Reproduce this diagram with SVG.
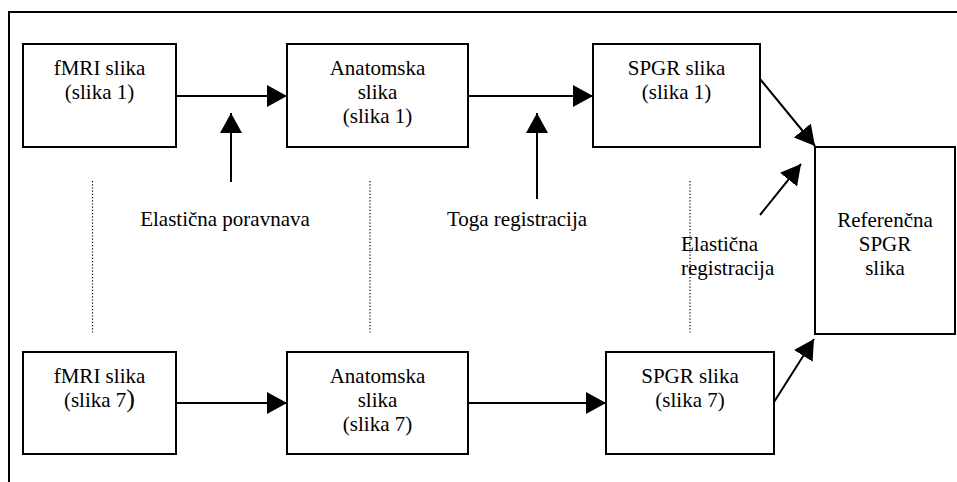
<svg xmlns="http://www.w3.org/2000/svg" width="957" height="482" viewBox="0 0 957 482">
<defs>
<marker id="ah" markerUnits="userSpaceOnUse" markerWidth="20" markerHeight="22" refX="20" refY="11" orient="auto">
<path d="M0,0 L20,11 L0,22 z" fill="#000"/>
</marker>
<style>
.box{fill:#fff;stroke:#000;stroke-width:2}
.arr{stroke:#000;stroke-width:2;fill:none;marker-end:url(#ah)}
.dot{stroke:#000;stroke-width:1.2;stroke-dasharray:1.2 2;fill:none}
</style>
</defs>
<rect width="957" height="482" fill="#fff"/>
<path d="M9,482 L9,12 L957,12" fill="none" stroke="#000" stroke-width="2"/>

<g id="connectors">
<line class="arr" x1="176" y1="96" x2="287" y2="96"/>
<line class="arr" x1="468" y1="96" x2="593" y2="96"/>
<line class="arr" x1="231" y1="182" x2="231" y2="113"/>
<line class="arr" x1="537" y1="199" x2="537" y2="113"/>
<line class="arr" x1="760" y1="79" x2="815" y2="146"/>
<line class="arr" x1="760" y1="215" x2="801" y2="164"/>
<line class="arr" x1="774" y1="402" x2="814" y2="339"/>
<line class="arr" x1="176" y1="403" x2="287" y2="403"/>
<line class="arr" x1="468" y1="403" x2="606" y2="403"/>
<line class="dot" x1="92.5" y1="181" x2="92.5" y2="334"/>
<line class="dot" x1="370" y1="181" x2="370" y2="334"/>
<line class="dot" x1="690" y1="181" x2="690" y2="334"/>
</g>

<g font-family="Liberation Serif" font-size="21" fill="#000">
<g id="fmri1">
<rect class="box" x="23" y="44" width="153" height="103"/>
<text text-anchor="middle" x="99.5" y="75">fMRI slika</text>
<text text-anchor="middle" x="99.5" y="99">(slika 1)</text>
</g>
<g id="anat1">
<rect class="box" x="287" y="44" width="181" height="103"/>
<text text-anchor="middle" x="377.5" y="75">Anatomska</text>
<text text-anchor="middle" x="377.5" y="99">slika</text>
<text text-anchor="middle" x="377.5" y="123">(slika 1)</text>
</g>
<g id="spgr1">
<rect class="box" x="593" y="44" width="167" height="103"/>
<text text-anchor="middle" x="676.5" y="75">SPGR slika</text>
<text text-anchor="middle" x="676.5" y="99">(slika 1)</text>
</g>
<g id="ref">
<rect class="box" x="815" y="147" width="140" height="187"/>
<text text-anchor="middle" x="885" y="227">Referenčna</text>
<text text-anchor="middle" x="885" y="251">SPGR</text>
<text text-anchor="middle" x="885" y="275">slika</text>
</g>
<g id="fmri7">
<rect class="box" x="23" y="352" width="153" height="102"/>
<text text-anchor="middle" x="99.5" y="383">fMRI slika</text>
<text text-anchor="middle" x="99.5" y="407">(slika 7<tspan font-size="26">)</tspan></text>
</g>
<g id="anat7">
<rect class="box" x="287" y="352" width="181" height="102"/>
<text text-anchor="middle" x="377.5" y="383">Anatomska</text>
<text text-anchor="middle" x="377.5" y="407">slika</text>
<text text-anchor="middle" x="377.5" y="431">(slika 7)</text>
</g>
<g id="spgr7">
<rect class="box" x="606" y="352" width="168" height="102"/>
<text text-anchor="middle" x="690" y="383">SPGR slika</text>
<text text-anchor="middle" x="690" y="407">(slika 7)</text>
</g>

<g id="labels">
<text text-anchor="middle" x="225" y="226">Elastična poravnava</text>
<text text-anchor="middle" x="517" y="226">Toga registracija</text>
<text x="681" y="251">Elastična</text>
<text x="681" y="275">registracija</text>
</g>
</g>
</svg>
